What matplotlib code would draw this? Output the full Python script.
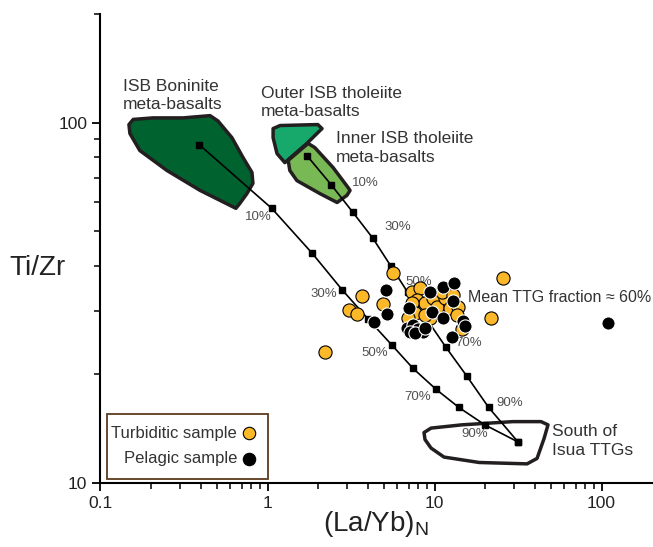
import numpy as np
import matplotlib
matplotlib.use("Agg")
import matplotlib.pyplot as plt
from matplotlib.patches import Polygon, Rectangle
from matplotlib.ticker import FixedLocator, NullFormatter

plt.rcParams['font.family'] = ['Liberation Sans', 'DejaVu Sans']

# mixing curves, one point per 10 % TTG
mix_boninite_x = [0.389, 1.06, 1.85, 2.79, 4.00, 5.57, 7.43, 10.2, 14.0, 20.0, 31.6]
mix_boninite_y = [86.9, 57.8, 43.4, 34.4, 28.5, 24.1, 20.8, 18.2, 16.2, 14.5, 13.0]
mix_tholeiite_x = [1.72, 2.40, 3.25, 4.28, 5.49, 6.91, 9.02, 11.7, 15.6, 21.1, 31.6]
mix_tholeiite_y = [81.0, 67.3, 56.3, 47.7, 39.9, 33.8, 28.4, 23.8, 19.8, 16.2, 13.0]

# percent labels
pct_text = ['10%', '30%', '50%', '70%', '90%']
pct_boninite_x = [0.877, 2.18, 4.39, 7.96, 17.5]
pct_boninite_y = [54.6, 33.4, 22.9, 17.3, 13.7]
pct_tholeiite_x = [3.84, 6.04, 8.07, 16.0, 28.2]
pct_tholeiite_y = [67.8, 51.2, 36.1, 24.4, 16.7]

# fields
boninite_x = [0.148, 0.157, 0.206, 0.312, 0.453, 0.505, 0.612, 0.713, 0.807, 0.818,
              0.753, 0.684, 0.647, 0.395, 0.250, 0.172, 0.150]
boninite_y = [98.7, 102, 103, 103, 104.5, 101, 90.8, 80.0, 72.7, 67.8,
              63.5, 59.7, 57.8, 64.8, 73.6, 83.6, 93.2]
outer_x = [1.08, 1.19, 2.00, 2.12, 1.72, 1.42, 1.27, 1.14, 1.08]
outer_y = [96.2, 98.1, 98.7, 96.2, 87.5, 81.0, 77.4, 82.0, 90.8]
inner_x = [1.33, 1.75, 1.92, 2.47, 3.03, 3.12, 2.99, 2.61, 2.06, 1.50, 1.36]
inner_y = [78.5, 87.5, 85.2, 75.0, 66.1, 64.8, 62.8, 60.0, 63.5, 69.0, 73.6]
ttg_x = [8.65, 9.53, 14.6, 29.5, 43.4, 47.8, 45.3, 41.1, 35.8, 18.5, 11.4, 9.53, 8.77]
ttg_y = [13.8, 14.2, 14.5, 14.8, 14.8, 14.5, 13.3, 11.7, 11.3, 11.4, 11.8, 12.5, 13.2]

# samples
turb_x = [5.64, 3.68, 3.08, 3.44, 4.92, 25.7, 21.8, 2.21, 14.6,
          7.33, 8.19, 7.86, 8.77, 7.33, 9.80, 10.35, 11.6, 12.4, 13.8,
          11.1, 9.40, 7.64, 8.77, 12.9, 13.6, 6.94]
turb_y = [38.2, 33.0, 30.1, 29.4, 31.3, 37.0, 28.6, 23.1, 26.8,
          33.8, 34.7, 32.1, 31.5, 31.5, 32.6, 30.7, 32.6, 30.5, 30.7,
          33.8, 28.6, 29.6, 29.2, 33.2, 29.2, 28.6]
pel_x = [5.12, 5.19, 4.34, 7.03, 9.40, 11.2, 13.1, 9.66, 11.2, 12.9, 14.8, 15.2,
         12.7, 109, 6.84, 7.43, 7.96, 8.53, 7.10, 7.64, 8.77]
pel_y = [34.2, 29.4, 27.9, 30.5, 33.8, 34.9, 35.8, 29.9, 28.6, 31.9, 28.1, 27.2,
         25.4, 27.7, 27.0, 27.4, 26.8, 26.2, 26.2, 26.0, 27.0]

orange = '#FBB829'
edge = '#231F20'
txt = '#333333'

fig = plt.figure(figsize=(6.53, 5.47), dpi=100)
ax = fig.add_axes([0.1539, 0.1170, 0.8443, 0.8574])
ax.set_xscale('log')
ax.set_yscale('log')
ax.set_xlim(0.1, 200)
ax.set_ylim(10, 200)

for px, py, fc in [(boninite_x, boninite_y, '#00622F'),
                   (outer_x, outer_y, '#17A86B'),
                   (inner_x, inner_y, '#79B955'),
                   (ttg_x, ttg_y, 'none')]:
    ax.add_patch(Polygon(np.column_stack([px, py]), closed=True, facecolor=fc,
                         edgecolor=edge, lw=2.5, joinstyle='round', zorder=2))

for mx, my in [(mix_boninite_x, mix_boninite_y), (mix_tholeiite_x, mix_tholeiite_y)]:
    ax.plot(mx, my, color='black', lw=1.2, marker='s', ms=3.8, zorder=3)

for t, x, y in zip(pct_text, pct_boninite_x, pct_boninite_y):
    ax.text(x, y, t, fontsize=9.5, color='#505050', ha='center', va='center', zorder=4)
for t, x, y in zip(pct_text, pct_tholeiite_x, pct_tholeiite_y):
    ax.text(x, y, t, fontsize=9.5, color='#505050', ha='center', va='center', zorder=4)

ax.scatter(turb_x, turb_y, s=90, c=orange, edgecolors='black', linewidths=0.8, zorder=5)
ax.scatter(pel_x, pel_y, s=90, c='black', edgecolors='white', linewidths=0.8, zorder=6)

ax.text(0.136, 118.8, 'ISB Boninite\nmeta-basalts', fontsize=12.5, color=txt,
        va='center', ha='left', linespacing=1.3)
ax.text(0.914, 113.6, 'Outer ISB tholeiite\nmeta-basalts', fontsize=12.5, color=txt,
        va='center', ha='left', linespacing=1.3)
ax.text(2.57, 84.9, 'Inner ISB tholeiite\nmeta-basalts', fontsize=12.5, color=txt,
        va='center', ha='left', linespacing=1.3)
ax.text(50.5, 13.1, 'South of\nIsua TTGs', fontsize=12.5, color=txt,
        va='center', ha='left', linespacing=1.3)
ax.text(15.8, 32.7, 'Mean TTG fraction \u2248 60%', fontsize=11.5, color=txt,
        va='center', ha='left')

# legend box
ax.add_patch(Rectangle((0.0118, 0.0085), 0.292, 0.1385, transform=ax.transAxes,
                       facecolor='white', edgecolor='#5B3A1E', lw=1.3, zorder=7))
ax.text(0.2476, 0.1066, 'Turbiditic sample', transform=ax.transAxes, fontsize=12,
        color=txt, ha='right', va='center', zorder=8)
ax.text(0.2476, 0.0512, 'Pelagic sample', transform=ax.transAxes, fontsize=12,
        color=txt, ha='right', va='center', zorder=8)
ax.scatter([0.2694], [0.1066], s=80, c=orange, edgecolors='black', linewidths=0.8,
           transform=ax.transAxes, zorder=8)
ax.scatter([0.2694], [0.0512], s=80, c='black', edgecolors='black', linewidths=0.8,
           transform=ax.transAxes, zorder=8)

for s in ['top', 'right']:
    ax.spines[s].set_visible(False)
for s in ['left', 'bottom']:
    ax.spines[s].set_linewidth(1.5)

ax.xaxis.set_major_locator(FixedLocator([0.1, 1, 10, 100]))
ax.xaxis.set_minor_locator(FixedLocator([v * d for d in [0.1, 1, 10] for v in range(2, 10)]))
ax.yaxis.set_major_locator(FixedLocator([10, 100]))
ax.yaxis.set_minor_locator(FixedLocator([v * 10 for v in range(2, 10)] + [200]))
ax.set_xticklabels(['0.1', '1', '10', '100'])
ax.set_yticklabels(['10', '100'])
ax.xaxis.set_minor_formatter(NullFormatter())
ax.yaxis.set_minor_formatter(NullFormatter())
ax.tick_params(which='major', direction='out', length=6, width=1.3, labelsize=12.5,
               labelcolor='#222222')
ax.tick_params(which='minor', direction='out', length=4, width=1.1)

fig.text(38 / 653, 1 - 268 / 547, 'Ti/Zr', fontsize=20, color='#222222',
         ha='center', va='center')
fig.text(376 / 653, 1 - 524 / 547, r'(La/Yb)$_\mathregular{N}$', fontsize=20,
         color='#222222', ha='center', va='center')

fig.savefig('out.png', dpi=100)
